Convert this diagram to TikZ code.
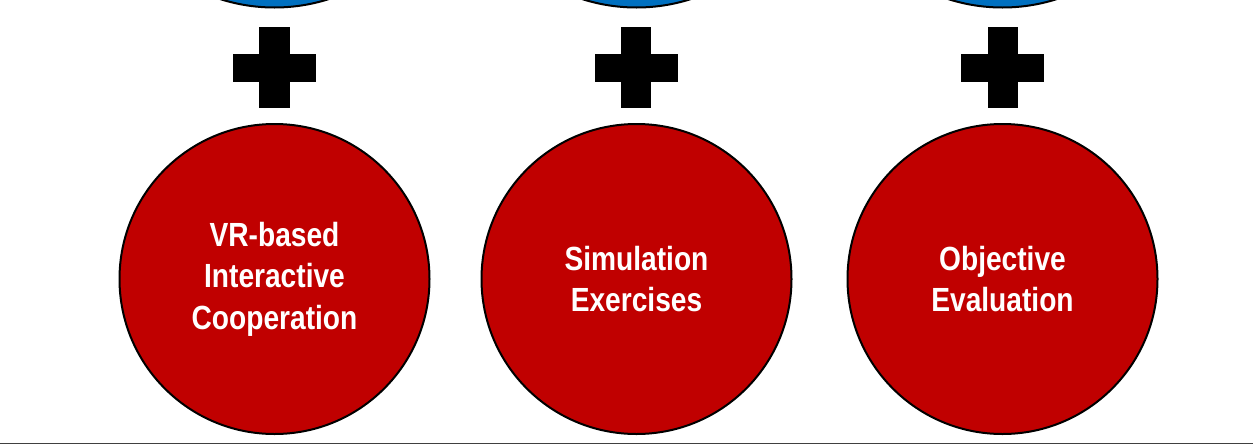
\documentclass[tikz,border=0pt]{standalone}
\usepackage{fontspec}
\setmainfont{Liberation Sans}[FakeStretch=0.84]
\usepackage{tikz}
\usepackage{color}
\definecolor{ballred}{HTML}{C00000}
\definecolor{ballblue}{HTML}{0070C0}

\begin{document}
\begin{tikzpicture}[x=1pt,y=1pt]
\tikzstyle{every node}+=[inner sep=0pt]
\tikzstyle{redball}=[circle,draw=black,line width=2pt,fill=ballred,minimum size=310pt,
  text=white,align=center,font=\fontsize{33.5}{41.5}\selectfont\bfseries]
\tikzstyle{blueball}=[circle,draw=black,line width=2pt,fill=ballblue,minimum size=357pt]
\tikzstyle{plusbar}=[fill=black]
\useasboundingbox (0,0) rectangle (1253,-445);
\clip (0,0) rectangle (1253,-445);
\node [blueball] (top1) at (274.5,171) {};
\node [blueball] (top2) at (636.5,171) {};
\node [blueball] (top3) at (1002.5,171) {};
\fill [plusbar] (233,-54) rectangle (316,-82);
\fill [plusbar] (259,-27) rectangle (290,-108);
\fill [plusbar] (595,-54) rectangle (678,-82);
\fill [plusbar] (621,-27) rectangle (651,-108);
\fill [plusbar] (961,-54) rectangle (1044,-82);
\fill [plusbar] (988,-27) rectangle (1018,-108);
\node [redball] (coop) at (274.5,-279) {VR-based\\Interactive\\Cooperation};
\node [redball] (sim) at (636.5,-279) {Simulation\\Exercises};
\node [redball] (eval) at (1002.5,-279) {Objective\\Evaluation};
\coordinate (baseL) at (0,-443.5);
\coordinate (baseR) at (1253,-443.5);
\draw [black!75,line width=1pt] (baseL) -- (baseR);
\end{tikzpicture}
\end{document}
